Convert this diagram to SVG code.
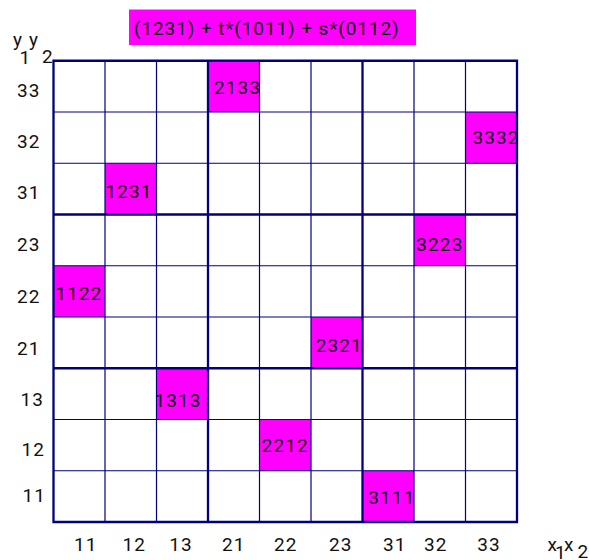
<svg xmlns="http://www.w3.org/2000/svg" width="589" height="560" viewBox="0 0 589 560">
<style>
text{font-family:Roboto,"Liberation Sans",sans-serif;font-size:19px;fill:#111;letter-spacing:1.1px}
.hl{fill:#ff00ff}
.thin{stroke:#000080;stroke-width:1.2;fill:none}
.thick{stroke:#000080;stroke-width:2.3;fill:none}
</style>
<rect width="589" height="560" fill="#fff"/>
<g id="title">
<rect class="hl" x="129" y="9.5" width="287" height="35.5"/>
<text x="134" y="35" style="letter-spacing:0.9px">(1231) + t*(1011) + s*(0112)</text>
</g>
<g id="cells">
<g id="c2133"><rect class="hl" x="208" y="60.75" width="51.5" height="51.25"/><text x="214" y="94.3">2133</text></g>
<g id="c3332"><rect class="hl" x="465.5" y="112" width="51.5" height="51.25"/><text x="472.5" y="144.3">3332</text></g>
<g id="c1231"><rect class="hl" x="105" y="163.25" width="51.5" height="51.25"/><text x="105.5" y="198.3">1231</text></g>
<g id="c3223"><rect class="hl" x="414" y="214.5" width="51.5" height="51.25"/><text x="416.3" y="250.7">3223</text></g>
<g id="c1122"><rect class="hl" x="53.5" y="265.75" width="51.5" height="51.25"/><text x="55.5" y="300">1122</text></g>
<g id="c2321"><rect class="hl" x="311" y="317" width="51.5" height="51.25"/><text x="315.7" y="351.7">2321</text></g>
<g id="c1313"><rect class="hl" x="156.5" y="368.25" width="51.5" height="51.25"/><text x="154.5" y="407.3">1313</text></g>
<g id="c2212"><rect class="hl" x="259.5" y="419.5" width="51.5" height="51.25"/><text x="261.7" y="452.3">2212</text></g>
<g id="c3111"><rect class="hl" x="362.5" y="470.75" width="51.5" height="51.25"/><text x="368.3" y="504">3111</text></g>
</g>
<g id="grid">
<path class="thin" d="M105 60.75V522M156.5 60.75V522M259.5 60.75V522M311 60.75V522M414 60.75V522M465.5 60.75V522M53.5 112H517M53.5 163.25H517M53.5 265.75H517M53.5 317H517M53.5 419.5H517M53.5 470.75H517"/>
<path class="thick" d="M53.5 60.75H517V522H53.5ZM208 60.75V522M362.5 60.75V522M53.5 214.5H517M53.5 368.25H517"/>
</g>
<g id="ylabels">
<text x="17" y="96.7">33</text>
<text x="17" y="147.5">32</text>
<text x="17" y="198.5">31</text>
<text x="17" y="250.5">23</text>
<text x="17" y="303">22</text>
<text x="17" y="354.5">21</text>
<text x="20.5" y="406">13</text>
<text x="21.5" y="456">12</text>
<text x="22.5" y="501.7">11</text>
</g>
<g id="xlabels">
<text x="74" y="551">11</text>
<text x="122.5" y="551">12</text>
<text x="169.2" y="551">13</text>
<text x="222" y="551">21</text>
<text x="274" y="551">22</text>
<text x="329" y="551">23</text>
<text x="383" y="551">31</text>
<text x="424" y="551">32</text>
<text x="477.3" y="551">33</text>
</g>
<g id="axisnames">
<text x="13" y="45.5">y</text>
<text x="19.5" y="63.5">1</text>
<text x="29" y="45.5">y</text>
<text x="42" y="63">2</text>
<text x="547.5" y="550.5">x</text>
<text x="555" y="558.5">1</text>
<text x="564" y="550.5">x</text>
<text x="577.5" y="558">2</text>
</g>
</svg>
